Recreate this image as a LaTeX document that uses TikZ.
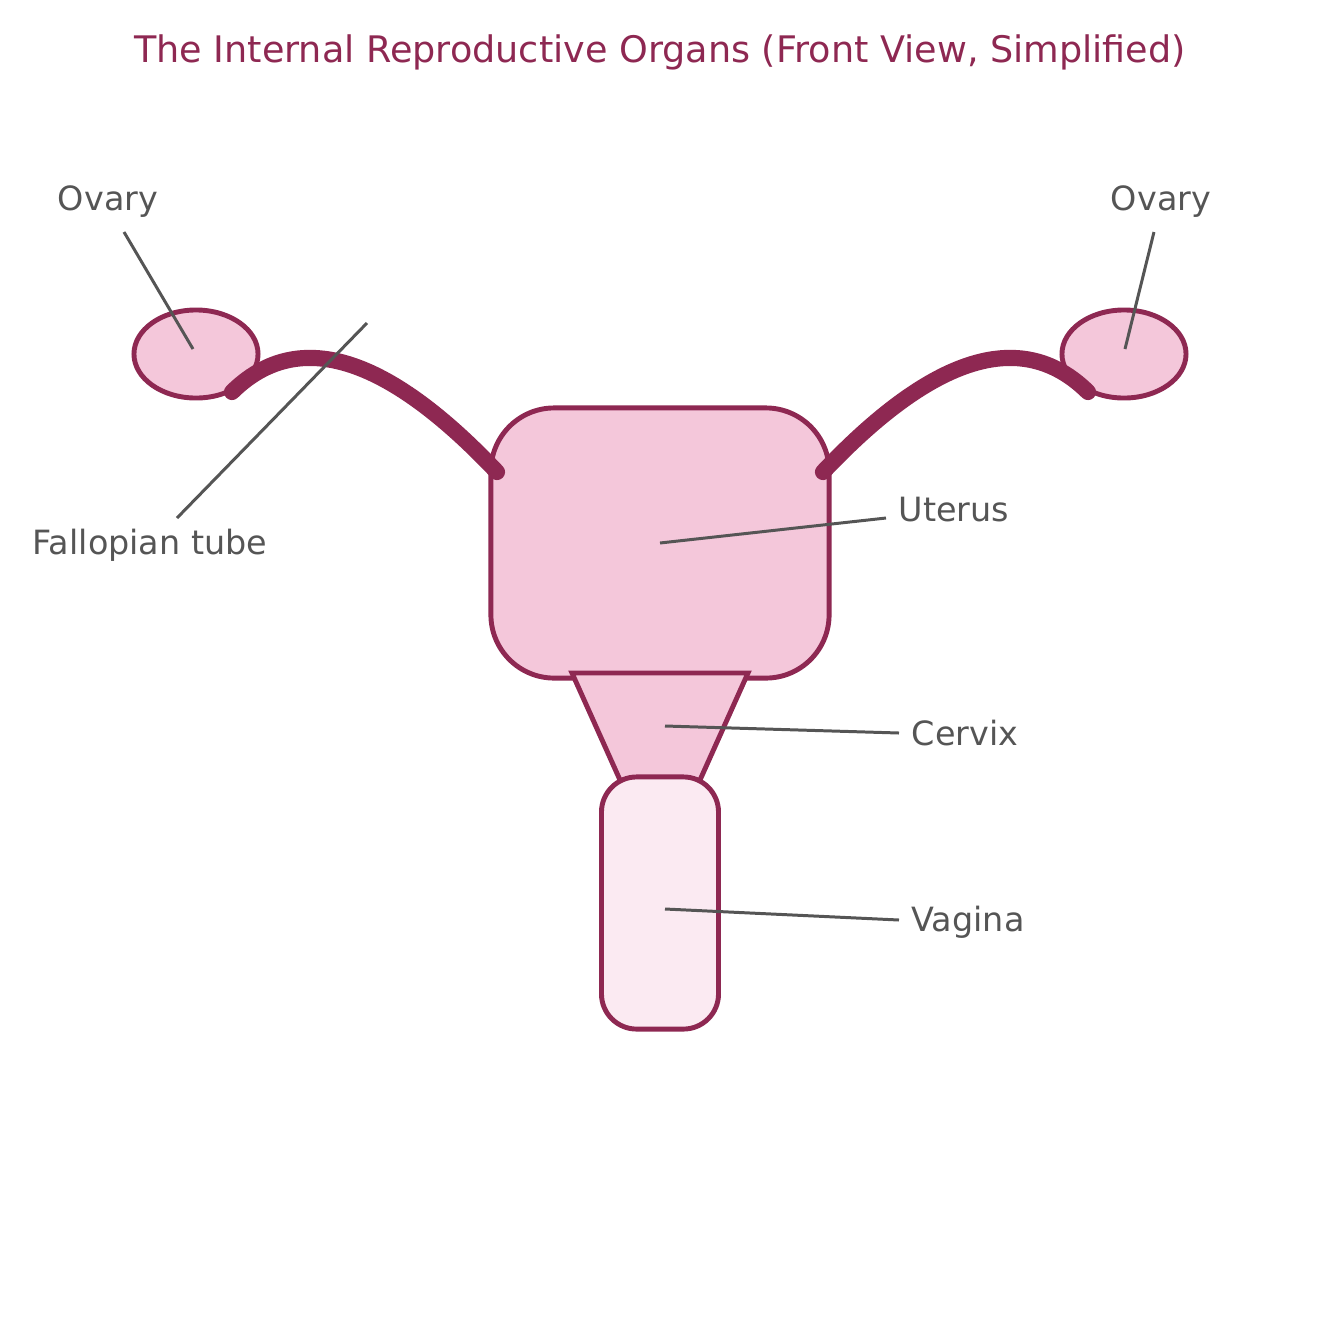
\documentclass[tikz,border=0pt]{standalone}
\usepackage{fontspec}
\setmainfont{DejaVu Sans}
\usetikzlibrary{shapes.geometric}
\definecolor{organline}{HTML}{8E2852}
\definecolor{organfill}{HTML}{F4C7DA}
\definecolor{organlight}{HTML}{FBEAF2}
\definecolor{labelgray}{HTML}{555555}
\tikzset{
  organ/.style={draw=organline, line width=1.4pt, fill=organfill},
  tube/.style={draw=organline, line width=4.6pt, line cap=round},
  leader/.style={draw=labelgray, line width=0.85pt},
  lbl/.style={text=labelgray, font=\fontsize{9.5}{11}\selectfont, inner sep=0pt}
}
\begin{document}
\begin{tikzpicture}[x=0.01cm, y=-0.01cm]
\useasboundingbox (0,0) rectangle (1320,1320);

\node [text=organline, font=\fontsize{10.4}{12}\selectfont] (title) at (660,52) {The Internal Reproductive Organs (Front View, Simplified)};

% ovaries
\node [organ, ellipse, minimum width=1.24cm, minimum height=0.88cm, inner sep=0pt] (ovary-l) at (196,354) {};
\node [organ, ellipse, minimum width=1.24cm, minimum height=0.88cm, inner sep=0pt] (ovary-r) at (1124,354) {};

% uterus
\node [organ, rectangle, rounded corners=18pt, minimum width=3.38cm, minimum height=2.7cm, inner sep=0pt] (uterus) at (660,543) {};

% fallopian tubes
\coordinate (tube-l) at (497,472);
\coordinate (tube-r) at (823,472);
\draw [tube] (tube-l) .. controls (410,380) and (310,315) .. (232,392);
\draw [tube] (tube-r) .. controls (910,380) and (1010,315) .. (1088,392);

% cervix
\draw [organ] (572,673) -- (748,673) -- (700,780) -- (620,780) -- cycle;
\coordinate (cervix) at (665,726);

% vagina
\node [organ, fill=organlight, rectangle, rounded corners=10pt, minimum width=1.17cm, minimum height=2.52cm, inner sep=0pt] (vagina) at (660,903) {};

% labels
\node [lbl] (lbl-ovary-l) at (108,202) {Ovary};
\node [lbl] (lbl-ovary-r) at (1161,202) {Ovary};
\node [lbl] (lbl-tube) at (150,545) {Fallopian tube};
\node [lbl, anchor=west] (lbl-uterus) at (898,510) {Uterus};
\node [lbl, anchor=west] (lbl-cervix) at (911,733) {Cervix};
\node [lbl, anchor=west] (lbl-vagina) at (911,922) {Vagina};

\coordinate (tube-pt) at (367,323);
\draw [leader] (lbl-ovary-l) ++(16,30) -- (193,349);
\draw [leader] (lbl-ovary-r) ++(-7,30) -- (1125,349);
\draw [leader] (lbl-tube) ++(27,-27) -- (tube-pt);
\draw [leader] (lbl-uterus.west) ++(-12,8) -- (uterus.center);
\draw [leader] (lbl-cervix.west) ++(-12,0) -- (cervix);
\draw [leader] (lbl-vagina.west) ++(-12,-2) -- (665,909);
\end{tikzpicture}
\end{document}
